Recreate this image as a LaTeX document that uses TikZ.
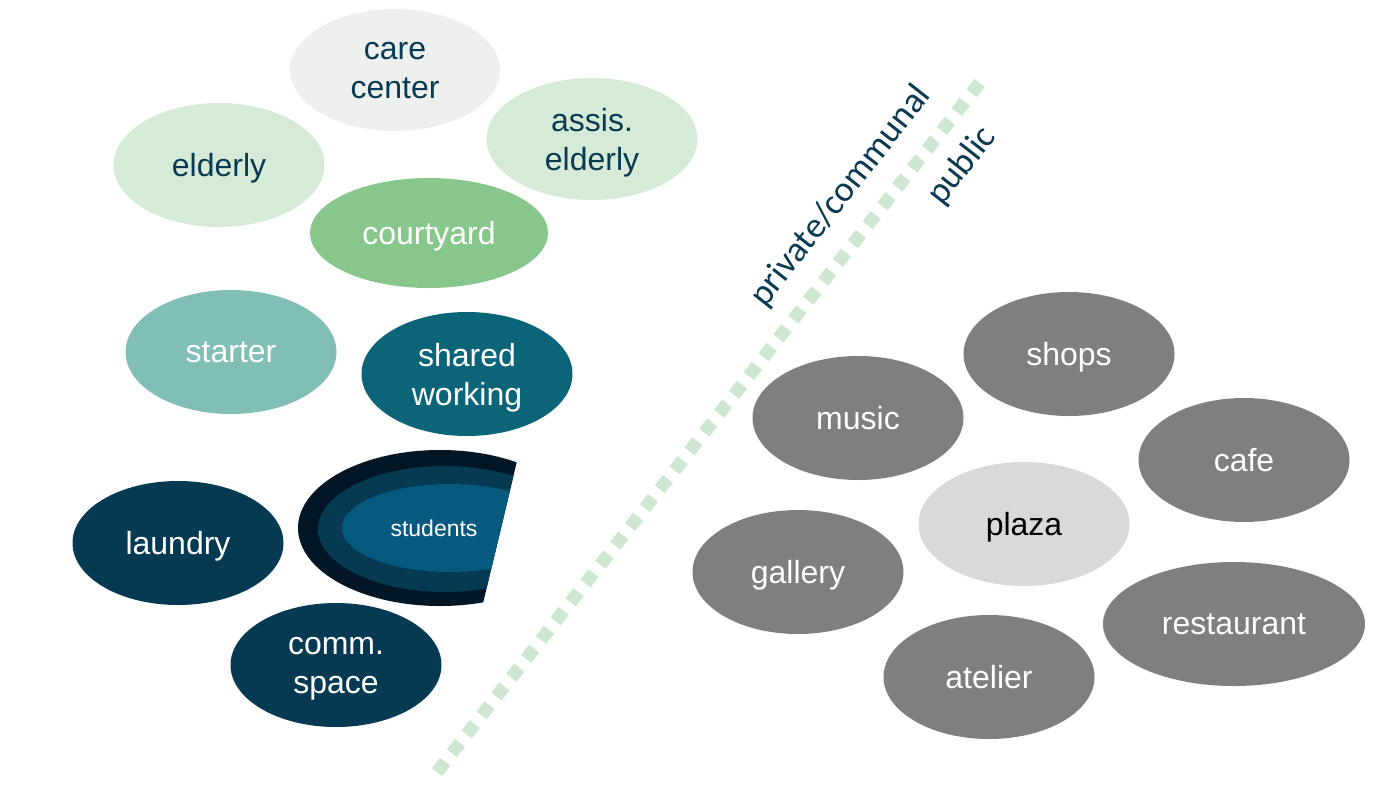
\documentclass[tikz,border=0pt]{standalone}
\usepackage{fontspec}
\setmainfont{Liberation Sans}
\newfontfamily\zonefont{Carlito}
\usetikzlibrary{shapes.geometric, positioning}

\definecolor{darktxt}{HTML}{0A3A52}
\definecolor{carebg}{HTML}{EEF0EE}
\definecolor{oldbg}{HTML}{D5EBD7}
\definecolor{yardbg}{HTML}{88C78C}
\definecolor{startbg}{HTML}{80BEB6}
\definecolor{workbg}{HTML}{0B6477}
\definecolor{navybg}{HTML}{053A52}
\definecolor{studA}{HTML}{031626}
\definecolor{studB}{HTML}{053A52}
\definecolor{studC}{HTML}{065A80}
\definecolor{greybg}{HTML}{7F7F7F}
\definecolor{plazabg}{HTML}{D9D9D9}
\definecolor{dashgreen}{HTML}{CFE6D2}

\begin{document}
\begin{tikzpicture}[x=1pt, y=-1pt,
		bubble/.style args = {#1/#2}{%
		ellipse, fill=#1, text=#2,
		minimum width=211pt, minimum height=124pt, inner sep=0pt,
		text depth=0pt,
		align=center, font=\fontsize{32}{39}\selectfont},
		dots/.style = {draw=dashgreen, line width=13pt,
		dash pattern=on 13pt off 11pt},
		zone/.style = {rotate=51.8, text=darktxt, inner sep=0pt,
		font=\zonefont\fontsize{36}{42}\selectfont}
		]
		\useasboundingbox (0,0) rectangle (1386,785);

		% private / communal side
		\node(care) [bubble=carebg/darktxt, minimum width=210pt, minimum height=122pt] at (395, 70) {care\\center};
		\node(elderly) [bubble=oldbg/darktxt] at (219,165) {elderly};
		\node(assis) [bubble=oldbg/darktxt, minimum height=122pt] at (592,139) {assis.\\elderly};
		\node(yard) [bubble=yardbg/white, minimum width=238pt, minimum height=110pt] at (429,233) {courtyard};
		\node(starter) [bubble=startbg/white] at (231,352) {starter};
		\node(work) [bubble=workbg/white] at (467,374) {shared\\working};
		\node(laundry) [bubble=navybg/white] at (178,543) {laundry};
		\node(comm) [bubble=navybg/white] at (336,665) {comm.\\space};

		\begin{scope}
			\clip (280,440) -- (522,440) -- (479,620) -- (280,620) -- cycle;
			\fill[studA] (440,528) ellipse [x radius=142, y radius=78];
			\fill[studB] (445,529) ellipse [x radius=127, y radius=63];
			\fill[studC] (450,528) ellipse [x radius=108, y radius=44];
		\end{scope}
		\node(students) [text=white, font=\fontsize{23}{28}\selectfont] at (434,528) {students};

		% border
		\coordinate(lineA) at (437,772);
		\coordinate(lineB) at (982,80);
		\draw[dots] (lineA) -- (lineB);
		\node(priv) [zone] at (841,196) {private/communal};
		\node(pub) [zone] at (962,166) {public};

		% public side
		\node(shops) [bubble=greybg/white] at (1069,354) {shops};
		\node(music) [bubble=greybg/white] at (858,418) {music};
		\node(cafe) [bubble=greybg/white] at (1244,460) {cafe};
		\node(plaza) [bubble=plazabg/black] at (1024,524) {plaza};
		\node(gallery) [bubble=greybg/white] at (798,572) {gallery};
		\node(rest) [bubble=greybg/white, minimum width=262pt] at (1234,624) {restaurant};
		\node(atelier) [bubble=greybg/white] at (989,677) {atelier};
\end{tikzpicture}
\end{document}
